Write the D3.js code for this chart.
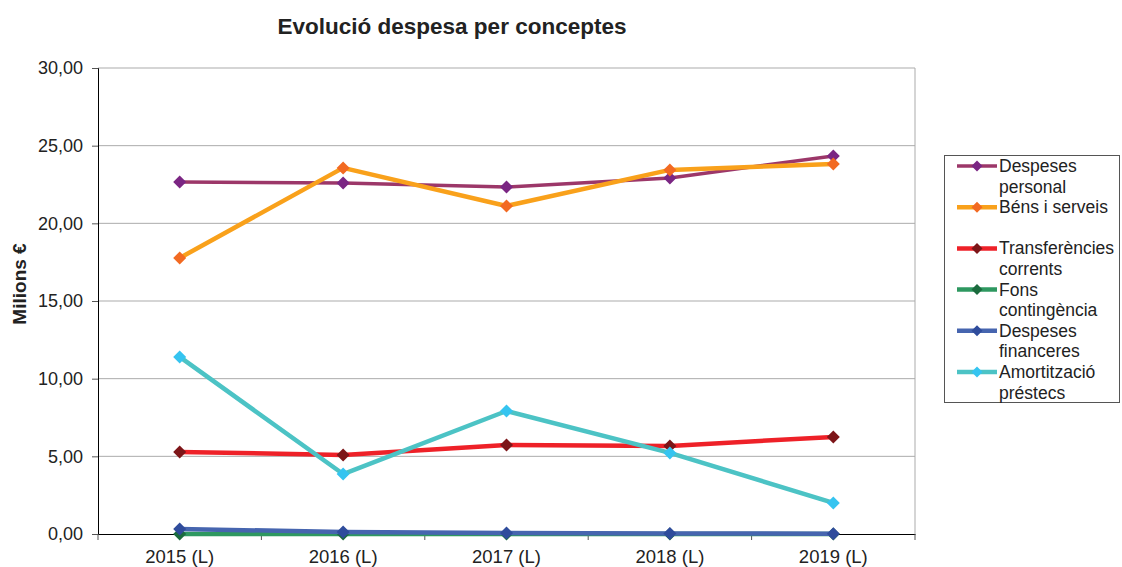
<!DOCTYPE html>
<html><head><meta charset="utf-8">
<script src="https://cdn.jsdelivr.net/npm/d3@7/dist/d3.min.js"></script>
<style>body{margin:0;background:#fff;}svg{display:block;font-family:"Liberation Sans",Arial,sans-serif;}</style>
</head><body><svg id="c" width="1122" height="567"></svg>
<script>
const categories = ["2015 (L)","2016 (L)","2017 (L)","2018 (L)","2019 (L)"];
const despesesPersonal = [22.66, 22.60, 22.34, 22.92, 24.34];
const bensServeis = [17.77, 23.57, 21.12, 23.44, 23.82];
const transferencies = [5.28, 5.09, 5.73, 5.67, 6.25];
const fonsContingencia = [0, 0, 0, 0, 0];
const despesesFinanceres = [0.32, 0.13, 0.06, 0.03, 0.02];
const amortitzacio = [11.40, 3.86, 7.92, 5.22, 2.00];
const yTicks = [0,5,10,15,20,25,30];
const seriesNames = [["Despeses","personal"],["Béns i serveis",""],["Transferències","corrents"],["Fons","contingència"],["Despeses","financeres"],["Amortització","préstecs"]];

const series = [
  {name:seriesNames[0], values:despesesPersonal, line:"#9C3769", marker:"#7B2683", w:3.5},
  {name:seriesNames[1], values:bensServeis, line:"#F9A11B", marker:"#F26A22", w:4.5},
  {name:seriesNames[2], values:transferencies, line:"#EE2128", marker:"#7D1518", w:4.5},
  {name:seriesNames[3], values:fonsContingencia, line:"#2E9860", marker:"#1B6B3E", w:4.5},
  {name:seriesNames[4], values:despesesFinanceres, line:"#4665AF", marker:"#2F4C9C", w:4.5},
  {name:seriesNames[5], values:amortitzacio, line:"#4CC3C5", marker:"#35C4F0", w:4.5}
];

const svg = d3.select("#c");
const L=98, R=915, T=68, B=534;
const x = d3.scaleBand().domain(categories).range([L,R]);
const y = d3.scaleLinear().domain([0,30]).range([B,T]);
const FONT = "Liberation Sans, Arial, sans-serif";

// title
svg.append("text").attr("x",452).attr("y",34).attr("text-anchor","middle")
  .attr("font-weight","bold").attr("font-size",22.5).attr("fill","#222").text("Evolució despesa per conceptes");

// gridlines
svg.append("g").selectAll("line").data(yTicks.filter(d=>d>0)).join("line")
  .attr("x1",L).attr("x2",R).attr("y1",d=>y(d)).attr("y2",d=>y(d))
  .attr("stroke","#ababab").attr("stroke-width",1);
// right border
svg.append("line").attr("x1",R).attr("x2",R).attr("y1",T).attr("y2",B).attr("stroke","#ababab");

// y axis
const ya = svg.append("g").attr("transform",`translate(${L},0)`)
  .call(d3.axisLeft(y).tickValues(yTicks).tickSize(6).tickPadding(9).tickFormat(d=>d3.format(".2f")(d).replace(".",",")));
ya.select(".domain").attr("stroke","#000");
ya.selectAll(".tick line").attr("stroke","#555");
ya.selectAll("text").attr("font-size",18).attr("fill","#222").attr("font-family",FONT);

// x axis
const xa = svg.append("g").attr("transform",`translate(0,${B})`)
  .call(d3.axisBottom(x).tickSize(0).tickPadding(16));
xa.select(".domain").attr("stroke","#000");
xa.selectAll("text").attr("font-size",18.5).attr("fill","#222").attr("font-family",FONT);
xa.selectAll(".xb").data(categories.concat(["_end"])).join("line")
  .attr("x1",(d,i)=>L+i*x.step()).attr("x2",(d,i)=>L+i*x.step())
  .attr("y1",0).attr("y2",6).attr("stroke","#555");

// y label
svg.append("text").attr("transform",`translate(26,284) rotate(-90)`).attr("text-anchor","middle")
  .attr("font-weight","bold").attr("font-size",19).attr("fill","#222").text("Milions €");

const cx = d=>x(d)+x.bandwidth()/2;
const line = d3.line().x((d,i)=>cx(categories[i])).y(d=>y(d));
const diamond = s=>`M0,${-s}L${s},0L0,${s}L${-s},0Z`;

series.forEach(s=>{
  svg.append("path").attr("d",line(s.values)).attr("fill","none").attr("stroke",s.line).attr("stroke-width",s.w).attr("stroke-linejoin","round");
  svg.append("g").selectAll("path").data(s.values).join("path")
    .attr("transform",(d,i)=>`translate(${cx(categories[i])},${y(d)})`)
    .attr("d",diamond(6.5)).attr("fill",s.marker);
});

// legend
const lg = svg.append("g");
lg.append("rect").attr("x",944.5).attr("y",155.5).attr("width",175).attr("height",247).attr("fill","#fff").attr("stroke","#555");
const lh = 20.6, ly0 = 166;
series.forEach((s,i)=>{
  const yy = ly0 + i*2*lh;
  lg.append("line").attr("x1",957).attr("x2",997).attr("y1",yy).attr("y2",yy).attr("stroke",s.line).attr("stroke-width",s.w);
  lg.append("path").attr("transform",`translate(977,${yy})`).attr("d",diamond(5.5)).attr("fill",s.marker);
  s.name.forEach((t,j)=>{
    lg.append("text").attr("x",999).attr("y",yy+j*lh+6).attr("font-size",17.5).attr("fill","#222").text(t);
  });
});
</script></body></html>
